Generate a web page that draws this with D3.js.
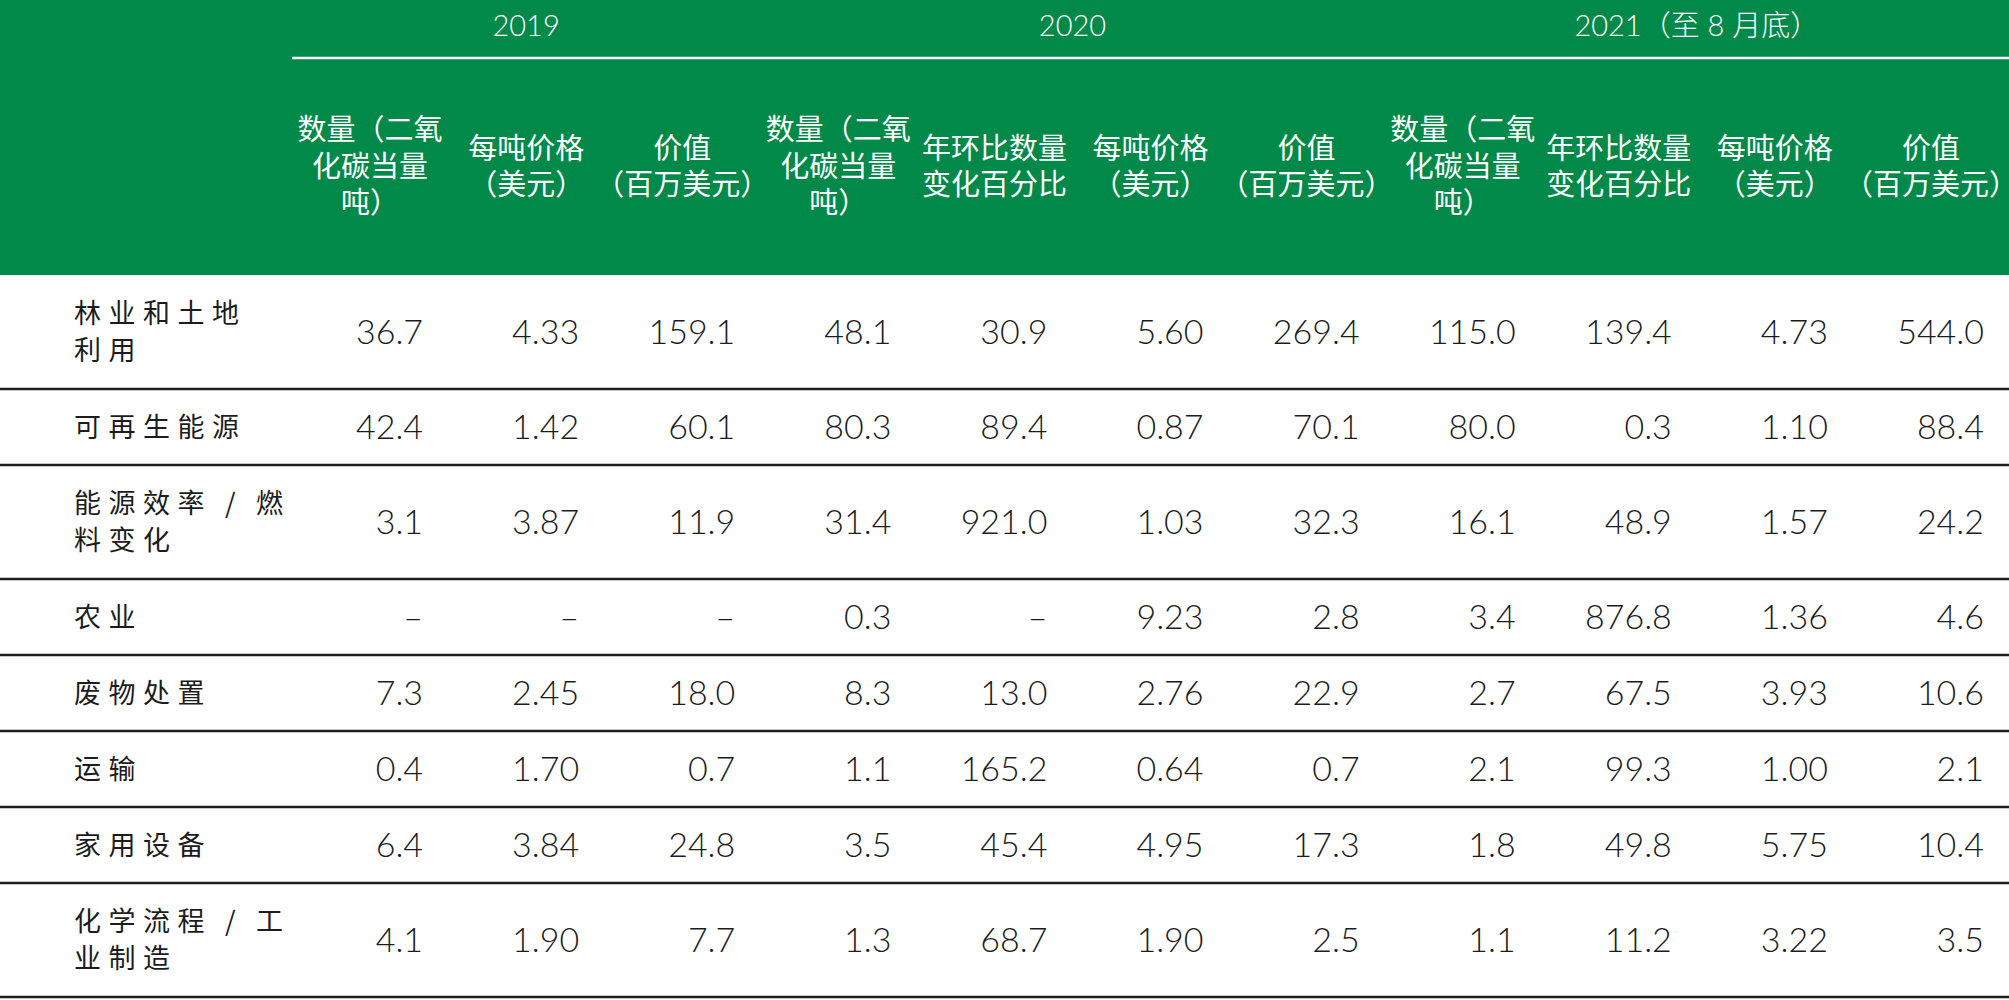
<!DOCTYPE html>
<html>
<head>
<meta charset="utf-8">
<script src="https://cdn.jsdelivr.net/npm/d3@7"></script>
<style>
  body { margin: 0; background: #fff; }
  svg { display: block; }
</style>
</head>
<body>
<div id="container"></div>
<script>
// ### DATA ###
const groups = [ '2019', '2020', '2021（至 8 月底）' ];
const groupSpans = [ 3, 4, 4 ];

const columnHeaders = [
  [ '数量（二氧', '化碳当量', '吨）' ],
  [ '每吨价格', '（美元）' ],
  [ '价值', '（百万美元）' ],
  [ '数量（二氧', '化碳当量', '吨）' ],
  [ '年环比数量', '变化百分比' ],
  [ '每吨价格', '（美元）' ],
  [ '价值', '（百万美元）' ],
  [ '数量（二氧', '化碳当量', '吨）' ],
  [ '年环比数量', '变化百分比' ],
  [ '每吨价格', '（美元）' ],
  [ '价值', '（百万美元）' ]
];

const sectors = [
  [ '林业和土地', '利用' ],
  [ '可再生能源' ],
  [ '能源效率\u2009/\u2009燃', '料变化' ],
  [ '农业' ],
  [ '废物处置' ],
  [ '运输' ],
  [ '家用设备' ],
  [ '化学流程\u2009/\u2009工', '业制造' ]
];

// null = no value ("–")
const volume2019 = [ 36.7, 42.4, 3.1, null, 7.3, 0.4, 6.4, 4.1 ];
const price2019 = [ 4.33, 1.42, 3.87, null, 2.45, 1.70, 3.84, 1.90 ];
const value2019 = [ 159.1, 60.1, 11.9, null, 18.0, 0.7, 24.8, 7.7 ];
const volume2020 = [ 48.1, 80.3, 31.4, 0.3, 8.3, 1.1, 3.5, 1.3 ];
const change2020 = [ 30.9, 89.4, 921.0, null, 13.0, 165.2, 45.4, 68.7 ];
const price2020 = [ 5.60, 0.87, 1.03, 9.23, 2.76, 0.64, 4.95, 1.90 ];
const value2020 = [ 269.4, 70.1, 32.3, 2.8, 22.9, 0.7, 17.3, 2.5 ];
const volume2021 = [ 115.0, 80.0, 16.1, 3.4, 2.7, 2.1, 1.8, 1.1 ];
const change2021 = [ 139.4, 0.3, 48.9, 876.8, 67.5, 99.3, 49.8, 11.2 ];
const price2021 = [ 4.73, 1.10, 1.57, 1.36, 3.93, 1.00, 5.75, 3.22 ];
const value2021 = [ 544.0, 88.4, 24.2, 4.6, 10.6, 2.1, 10.4, 3.5 ];

const columns = [
  { values: volume2019, fmt: '.1f' },
  { values: price2019, fmt: '.2f' },
  { values: value2019, fmt: '.1f' },
  { values: volume2020, fmt: '.1f' },
  { values: change2020, fmt: '.1f' },
  { values: price2020, fmt: '.2f' },
  { values: value2020, fmt: '.1f' },
  { values: volume2021, fmt: '.1f' },
  { values: change2021, fmt: '.1f' },
  { values: price2021, fmt: '.2f' },
  { values: value2021, fmt: '.1f' }
];

// ### LAYOUT ###
const width = 2009;
const height = 1000;
const headerHeight = 275;
const yearLineY = 58;
const labelX = 74;
const cellPad = 25;
const green = '#01894a';
const ink = '#1c1c1c';
const numFont = 'Lato, "Open Sans", "Noto Sans", sans-serif';
const cjkFont = '"Noto Sans CJK SC", "Noto Sans", sans-serif';

const svg = d3.select( '#container' )
  .append( 'svg' )
  .attr( 'width', width )
  .attr( 'height', height );

svg.append( 'rect' )
  .attr( 'width', width )
  .attr( 'height', height )
  .attr( 'fill', '#fff' );

//_____ SCALES _____
const x = d3.scaleBand()
  .domain( d3.range( columns.length ) )
  .range( [ 292, width ] );

//--- rows measured in units: a row with n label lines takes n + 1 units
const rowUnits = sectors.map( s => s.length + 1 );
const rowStart = d3.cumsum( [ 0 ].concat( rowUnits ) );
const y = d3.scaleLinear()
  .domain( [ 0, d3.sum( rowUnits ) ] )
  .range( [ headerHeight, 997 ] );

//_____ HEADER _____
svg.append( 'rect' )
  .attr( 'width', width )
  .attr( 'height', headerHeight )
  .attr( 'fill', green );

const groupStart = d3.cumsum( [ 0 ].concat( groupSpans ) );
svg.selectAll( '.year' )
  .data( groups )
  .enter()
  .append( 'text' )
  .attr( 'class', 'year' )
  .attr( 'x', ( d, i ) => ( x( groupStart[ i ] ) + x( groupStart[ i + 1 ] - 1 ) + x.bandwidth() ) / 2 )
  .attr( 'y', 26 )
  .attr( 'dy', '0.35em' )
  .attr( 'text-anchor', 'middle' )
  .style( 'font-family', `Lato, ${cjkFont}` )
  .style( 'font-weight', 300 )
  .style( 'font-size', '29px' )
  .style( 'fill', '#fff' )
  .text( d => d );

svg.append( 'line' )
  .attr( 'x1', x( 0 ) )
  .attr( 'x2', width )
  .attr( 'y1', yearLineY )
  .attr( 'y2', yearLineY )
  .attr( 'stroke', '#fff' )
  .attr( 'stroke-width', 2.5 );

const headMid = ( yearLineY + headerHeight ) / 2;
const headLine = 36.5;
const heads = svg.selectAll( '.col-head' )
  .data( columnHeaders )
  .enter()
  .append( 'text' )
  .attr( 'class', 'col-head' )
  .attr( 'text-anchor', 'middle' )
  .style( 'font-family', cjkFont )
  .style( 'font-size', '29px' )
  .style( 'fill', '#fff' );

heads.selectAll( 'tspan' )
  .data( ( d, i ) => d.map( ( t, j ) => ( { t, j, n: d.length, i } ) ) )
  .enter()
  .append( 'tspan' )
  .attr( 'x', d => x( d.i ) + x.bandwidth() / 2 )
  .attr( 'y', d => headMid + ( d.j - ( d.n - 1 ) / 2 ) * headLine )
  .attr( 'dy', '0.36em' )
  .text( d => d.t );

//_____ BODY ROWS _____
const rows = svg.selectAll( '.row' )
  .data( sectors )
  .enter()
  .append( 'g' )
  .attr( 'class', 'row' );

//>>> separators under each row
rows.append( 'line' )
  .attr( 'x1', 0 )
  .attr( 'x2', width )
  .attr( 'y1', ( d, i ) => y( rowStart[ i + 1 ] ) )
  .attr( 'y2', ( d, i ) => y( rowStart[ i + 1 ] ) )
  .attr( 'stroke', ink )
  .attr( 'stroke-width', 2.5 );

//>>> sector labels
const rowMid = i => ( y( rowStart[ i ] ) + y( rowStart[ i + 1 ] ) ) / 2;
rows.append( 'text' )
  .style( 'font-family', cjkFont )
  .style( 'font-size', '27px' )
  .style( 'letter-spacing', '7.5px' )
  .style( 'fill', ink )
  .selectAll( 'tspan' )
  .data( ( d, i ) => d.map( ( t, j ) => ( { t, j, n: d.length, i } ) ) )
  .enter()
  .append( 'tspan' )
  .attr( 'x', labelX )
  .attr( 'y', d => rowMid( d.i ) + ( d.j - ( d.n - 1 ) / 2 ) * 37 )
  .attr( 'dy', '0.36em' )
  .text( d => d.t );

//>>> value cells
columns.forEach( ( col, c ) => {
  const f = d3.format( col.fmt );
  svg.selectAll( `.cell-${c}` )
    .data( col.values )
    .enter()
    .append( 'text' )
    .attr( 'class', `cell-${c}` )
    .attr( 'x', x( c ) + x.bandwidth() - cellPad )
    .attr( 'y', ( d, i ) => rowMid( i ) )
    .attr( 'dy', '0.36em' )
    .attr( 'text-anchor', 'end' )
    .style( 'font-family', numFont )
    .style( 'font-weight', 300 )
    .style( 'font-size', '34px' )
    .style( 'fill', ink )
    .text( d => d === null ? '–' : f( d ) );
} );
</script>
</body>
</html>
